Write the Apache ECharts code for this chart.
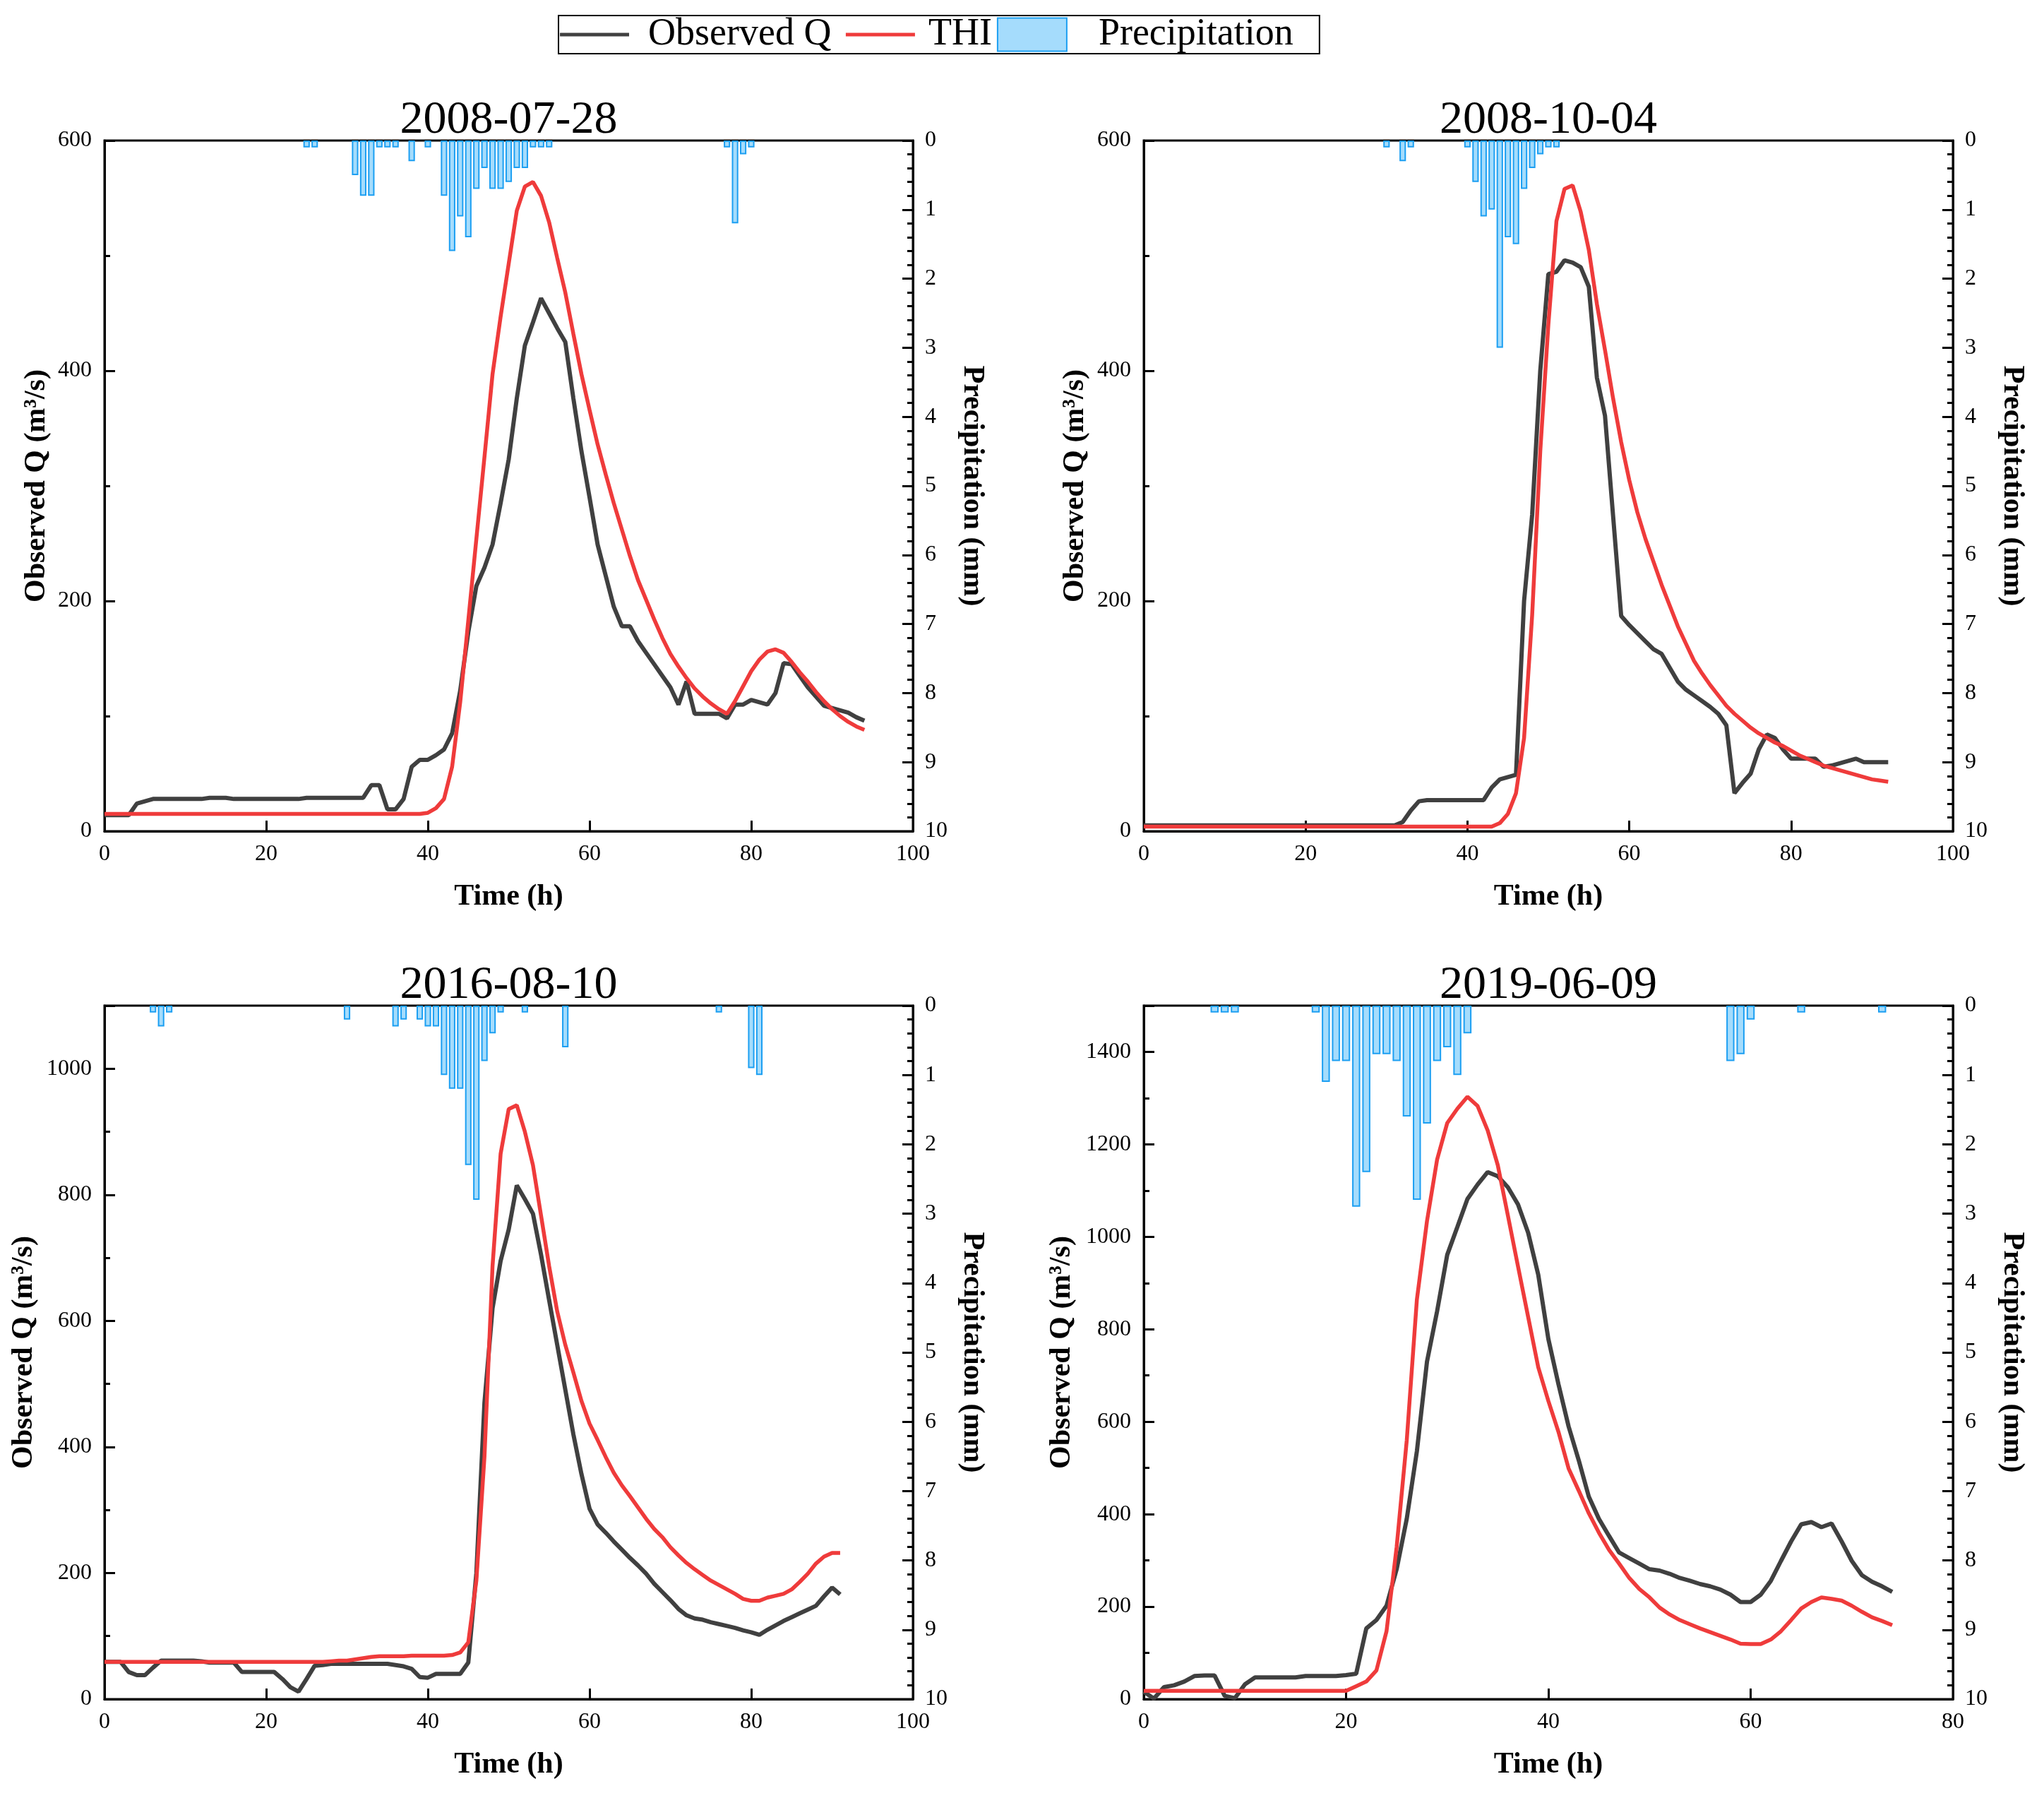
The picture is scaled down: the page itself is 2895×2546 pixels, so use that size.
<!DOCTYPE html>
<html>
<head>
<meta charset="utf-8">
<script src="https://cdn.jsdelivr.net/npm/echarts@6/dist/echarts.min.js"></script>
<style>
html,body{margin:0;padding:0;background:#fff;}
#chart{width:2895px;height:2546px;}
</style>
</head>
<body>
<div id="chart"></div>
<script>
// ---------------- DATA ----------------
const dates = ['2008-07-28', '2008-10-04', '2016-08-10', '2019-06-09'];
const seriesNames = ['Observed Q', 'THI', 'Precipitation'];
const xMaxes = [100, 100, 100, 80];
const qMaxes = [600, 600, 1100, 1500];

// hourly values, index = hour (h)
const obsQ1 = [14,14,14,14,24,26,28,28,28,28,
  28,28,28,29,29,29,28,28,28,28,
  28,28,28,28,28,29,29,29,29,29,
  29,29,29,40,40,19,19,28,56,62,
  62,66,71,85,122,173,213,229,249,285,
  323,376,422,442,463,450,437,425,376,330,
  290,249,222,195,178,178,165,155,145,135,
  125,110,130,102,102,102,102,98,110,110,
  114,112,110,120,146,145,135,125,117,109,
  107,105,103,99,96];
const thi1 = [15,15,15,15,15,15,15,15,15,15,
  15,15,15,15,15,15,15,15,15,15,
  15,15,15,15,15,15,15,15,15,15,
  15,15,15,15,15,15,15,15,15,15,
  16,20,28,56,112,183,254,325,397,447,
  493,539,560,564,552,529,498,468,432,397,
  366,336,310,285,262,239,218,201,184,168,
  154,143,133,124,117,111,106,102,113,126,
  139,149,156,158,155,147,138,130,121,113,
  106,100,95,91,88];
const rainHours1 = [25,26,31,32,33,34,35,36,38,40,42,43,44,45,46,47,48,49,50,51,52,53,54,55,77,78,79,80];
const rainMm1 = [0.1,0.1,0.5,0.8,0.8,0.1,0.1,0.1,0.3,0.1,0.8,1.6,1.1,1.4,0.7,0.4,0.7,0.7,0.6,0.4,0.4,0.1,0.1,0.1,0.1,1.2,0.2,0.1];

const obsQ2 = [5,5,5,5,5,5,5,5,5,5,
  5,5,5,5,5,5,5,5,5,5,
  5,5,5,5,5,5,5,5,5,5,
  5,5,
  8,18,26,27,27,27,27,27,27,27,
  27,38,45,47,49,200,275,400,484,486,
  496,494,490,473,394,361,274,187,179,172,
  165,158,154,142,130,123,118,113,108,102,
  92,33,42,50,71,84,81,71,63,63,
  63,63,56,57,59,61,63,60,60,60,
  60];
const thi2 = [4,4,4,4,4,4,4,4,4,4,
  4,4,4,4,4,4,4,4,4,4,
  4,4,4,4,4,4,4,4,4,4,
  4,4,4,4,4,4,4,4,4,4,
  4,4,4,4,
  7,15,33,81,188,330,440,530,558,561,
  538,505,458,418,376,338,305,277,254,234,
  214,196,178,163,148,137,127,118,109,102,
  96,90,85,81,77,74,70,66,63,60,
  57,55,53,51,49,47,45,44,43];
const rainHours2 = [30,32,33,40,41,42,43,44,45,46,47,48,49,50,51];
const rainMm2 = [0.1,0.3,0.1,0.1,0.6,1.1,1.0,3.0,1.4,1.5,0.7,0.4,0.2,0.1,0.1];

const obsQ3 = [59,59,59,43,38,38,50,61,61,61,
  61,61,60,58,58,58,58,43,43,43,
  43,43,32,19,12,32,53,54,56,56,
  56,56,56,56,56,56,54,52,48,35,
  34,40,40,40,40,58,200,470,620,695,
  745,815,793,770,705,633,562,491,420,357,
  302,277,264,250,237,224,212,199,183,170,
  157,143,133,128,126,122,119,116,113,109,
  106,102,110,117,124,130,136,142,148,163,
  177,166];
const thi3 = [59,59,59,59,59,59,59,59,59,59,
  59,59,59,59,59,59,59,59,59,59,
  59,59,59,59,59,59,59,59,
  60,61,61,63,65,67,68,68,68,68,
  69,69,69,69,69,70,74,90,188,384,
  687,865,936,942,900,847,767,687,615,562,
  518,473,437,411,384,359,339,322,304,286,
  270,257,241,228,216,206,197,188,181,174,
  167,159,156,156,161,164,167,174,186,199,
  215,226,232,232];
const rainHours3 = [6,7,8,30,36,37,39,40,41,42,43,44,45,46,47,48,49,52,57,76,80,81];
const rainMm3 = [0.1,0.3,0.1,0.2,0.3,0.2,0.2,0.3,0.3,1.0,1.2,1.2,2.3,2.8,0.8,0.4,0.1,0.1,0.6,0.1,0.9,1.0];

const obsQ4 = [16,1,26,30,38,50,51,51,7,2,
  32,47,47,47,47,47,50,50,50,50,
  52,55,153,171,202,281,390,536,730,839,
  961,1021,1082,1113,1140,1131,1107,1070,1009,918,
  779,681,590,517,438,390,353,317,305,293,
  281,278,271,262,256,249,244,237,226,210,
  210,226,256,299,341,378,383,372,380,341,
  299,268,254,244,232];
const thi4 = [18,18,18,18,18,18,18,18,18,18,
  18,18,18,18,18,18,18,18,18,18,
  18,
  28,38,62,147,329,560,864,1034,1167,1246,
  1277,1303,1283,1230,1155,1046,936,827,718,645,
  578,499,451,402,360,323,293,262,238,220,
  198,183,171,162,153,145,137,129,120,119,
  119,129,147,171,196,210,220,217,213,202,
  189,177,169,160];
const rainHours4 = [7,8,9,17,18,19,20,21,22,23,24,25,26,27,28,29,30,31,32,58,59,60,65,73];
const rainMm4 = [0.1,0.1,0.1,0.1,1.1,0.8,0.8,2.9,2.4,0.7,0.7,0.8,1.6,2.8,1.7,0.8,0.6,1.0,0.4,0.8,0.7,0.2,0.1,0.1];

// ---------------- LAYOUT / STYLE ----------------
const obsList = [obsQ1, obsQ2, obsQ3, obsQ4];
const thiList = [thi1, thi2, thi3, thi4];
const rainHList = [rainHours1, rainHours2, rainHours3, rainHours4];
const rainVList = [rainMm1, rainMm2, rainMm3, rainMm4];

const grids = [
  {left: 148, top: 199, width: 1145, height: 978},
  {left: 1620, top: 199, width: 1146, height: 978},
  {left: 148, top: 1424, width: 1145, height: 982},
  {left: 1620, top: 1424, width: 1146, height: 982}
];
const leftNameGaps = [75, 76, 93, 95];
const SERIF = "'Liberation Serif', 'Times New Roman', serif";
const BLACK = '#404040', RED = '#ef3b3b', BAR_FILL = '#a5dcfc', BAR_EDGE = '#1c9ff2';
// legend line icon: 98x47 box with a 5px horizontal stroke in the middle
const LINE_ICON = 'path://M0,0L0.01,0L0,0.01Z M0,21H98V26H0Z M98,47L97.99,47L98,46.99Z';

const axisLineStyle = {color: '#000', width: 3};
const tickLabel = {color: '#000', fontSize: 32, fontFamily: SERIF, formatter: v => String(v)};
const nameStyle = {color: '#000', fontSize: 42, fontWeight: 'bold', fontFamily: SERIF};

const option = {
  backgroundColor: '#fff',
  animation: false,
  title: [],
  legend: {
    left: 791, top: 22,
    data: [
      {name: seriesNames[0], icon: LINE_ICON, itemStyle: {color: BLACK, borderWidth: 0}, textStyle: {padding: [0, 0, 0, 22]}},
      {name: seriesNames[1], icon: LINE_ICON, itemStyle: {color: RED, borderWidth: 0}, textStyle: {padding: [0, 0, 0, 14]}},
      {name: seriesNames[2], icon: 'rect', textStyle: {padding: [0, 0, 0, 40]}}
    ],
    formatter: name => (name === seriesNames[0] ? name + ' ' : name),
    orient: 'horizontal',
    itemWidth: 98, itemHeight: 47,
    itemGap: 7,
    padding: [0, 37, 0, 2],
    borderColor: '#000', borderWidth: 2,
    textStyle: {color: '#000', fontSize: 54, fontFamily: SERIF}
  },
  grid: [], xAxis: [], yAxis: [], series: []
};

for (let p = 0; p < 4; p++) {
  const g = grids[p];
  option.grid.push(Object.assign({show: true, borderColor: '#000', borderWidth: 3, backgroundColor: 'transparent'}, g));
  option.title.push({
    text: dates[p], left: g.left + g.width / 2, textAlign: 'center', top: g.top - 61, padding: 0,
    textStyle: {color: '#000', fontSize: 66, fontWeight: 'normal', fontFamily: SERIF}
  });
  option.xAxis.push({
    type: 'value', gridIndex: p, min: 0, max: xMaxes[p], interval: 20,
    axisLine: {show: true, lineStyle: axisLineStyle},
    axisTick: {show: true, inside: true, length: 15, lineStyle: {color: '#000', width: 3}},
    axisLabel: Object.assign({margin: 17, showMaxLabel: true, showMinLabel: true}, tickLabel),
    splitLine: {show: false},
    name: 'Time (h)', nameLocation: 'middle', nameGap: 72, nameTextStyle: nameStyle
  });
  option.yAxis.push({
    type: 'value', gridIndex: p, position: 'left', min: 0, max: qMaxes[p], interval: 200,
    axisLine: {show: true, lineStyle: axisLineStyle},
    axisTick: {show: true, inside: true, length: 15, lineStyle: {color: '#000', width: 3}},
    minorTick: {show: true, splitNumber: 2, length: 8, lineStyle: {color: '#000', width: 3}},
    axisLabel: Object.assign({margin: 18, showMaxLabel: qMaxes[p] % 200 === 0}, tickLabel),
    splitLine: {show: false}, minorSplitLine: {show: false},
    name: 'Observed Q (m³/s)', nameLocation: 'middle', nameGap: leftNameGaps[p], nameTextStyle: nameStyle
  });
  option.yAxis.push({
    type: 'value', gridIndex: p, position: 'right', min: 0, max: 10, interval: 1, inverse: true,
    axisLine: {show: true, lineStyle: axisLineStyle},
    axisTick: {show: true, inside: true, length: 15, lineStyle: {color: '#000', width: 3}},
    minorTick: {show: true, splitNumber: 5, length: 8, lineStyle: {color: '#000', width: 3}},
    axisLabel: Object.assign({margin: 17}, tickLabel),
    splitLine: {show: false}, minorSplitLine: {show: false},
    name: 'Precipitation (mm)', nameLocation: 'middle', nameGap: 63, nameRotate: -90, nameTextStyle: nameStyle
  });
  const hourPx = g.width / xMaxes[p];
  option.series.push({
    name: seriesNames[2], type: 'bar', xAxisIndex: p, yAxisIndex: 2 * p + 1,
    barWidth: hourPx * 0.8,
    itemStyle: {color: BAR_FILL, borderColor: BAR_EDGE, borderWidth: 2},
    data: rainHList[p].map((h, i) => [h, rainVList[p][i]]),
    z: 1
  });
  option.series.push({
    name: seriesNames[0], type: 'line', xAxisIndex: p, yAxisIndex: 2 * p,
    symbol: 'none', showSymbol: false,
    lineStyle: {color: BLACK, width: 6}, itemStyle: {color: BLACK},
    data: obsList[p].map((v, i) => [i, v]),
    z: 3
  });
  option.series.push({
    name: seriesNames[1], type: 'line', xAxisIndex: p, yAxisIndex: 2 * p,
    symbol: 'none', showSymbol: false,
    lineStyle: {color: RED, width: 5.5}, itemStyle: {color: RED},
    data: thiList[p].map((v, i) => [i, v]),
    z: 4
  });
}

const chart = echarts.init(document.getElementById('chart'), null, {renderer: 'canvas'});
chart.setOption(option);
</script>
</body>
</html>
